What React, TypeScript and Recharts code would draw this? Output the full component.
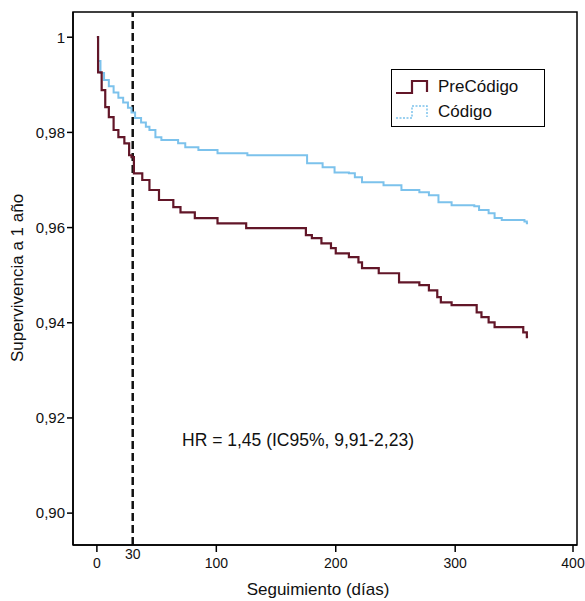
import React from "react";
import {
  LineChart,
  Line,
  XAxis,
  YAxis,
  ReferenceLine,
  ReferenceArea,
  Legend,
} from "recharts";

// PreCódigo Kaplan-Meier curve (días, supervivencia)
const preDays = [0, 1, 4, 7, 10, 14, 18, 23, 27, 29, 31, 38, 44, 52, 64, 70, 82, 101, 125, 175, 180, 188, 196, 200, 211, 219, 222, 236, 253, 270, 278, 285, 288, 297, 318, 322, 328, 333, 357, 360, 361];
const preSurv = [1, 0.9926, 0.9889, 0.9853, 0.9832, 0.9805, 0.979, 0.9777, 0.9752, 0.9748, 0.9714, 0.97, 0.9679, 0.9658, 0.9643, 0.9632, 0.962, 0.9609, 0.9599, 0.9584, 0.9578, 0.9567, 0.9557, 0.9546, 0.9538, 0.9527, 0.9515, 0.9504, 0.9485, 0.9479, 0.9468, 0.9454, 0.9443, 0.9437, 0.9422, 0.9412, 0.9401, 0.9391, 0.938, 0.937, 0.937];

// Código Kaplan-Meier curve
const codDays = [0, 1, 3, 6, 10, 14, 18, 22, 26, 29, 32, 37, 41, 44, 49, 54, 68, 74, 85, 101, 126, 176, 189, 199, 211, 216, 222, 240, 255, 270, 278, 286, 297, 316, 320, 328, 333, 339, 358, 360, 361];
const codSurv = [1, 0.995, 0.9925, 0.991, 0.9897, 0.9884, 0.9873, 0.9863, 0.9852, 0.9842, 0.983, 0.9821, 0.9812, 0.9805, 0.979, 0.9784, 0.9777, 0.9769, 0.9763, 0.9756, 0.9752, 0.9735, 0.9727, 0.9716, 0.9714, 0.9706, 0.9695, 0.9689, 0.9679, 0.9674, 0.9668, 0.9653, 0.9647, 0.9645, 0.9637, 0.963, 0.962, 0.9616, 0.9613, 0.9609, 0.9609];

const xTicks = [0, 30, 100, 200, 300, 400];
const yTicks = [0.9, 0.92, 0.94, 0.96, 0.98, 1];
const seriesNames = ["PreCódigo", "Código"];
const hrText = "HR = 1,45 (IC95%, 9,91-2,23)";
const xTitle = "Seguimiento (días)";
const yTitle = "Supervivencia a 1 año";
const cutoffDay = 30;

const preData = preDays.map((d, i) => ({ day: d, surv: preSurv[i] }));
const codData = codDays.map((d, i) => ({ day: d, surv: codSurv[i] }));

const RED = "#621628";
const BLUE = "#7cc2ec";
const FONT = "'Liberation Sans', Arial, sans-serif";

const X_DOMAIN: [number, number] = [-20, 402];
const Y_DOMAIN: [number, number] = [0.8933, 1.0053];
const PLOT_BOTTOM = 545;

const XTick = (props: any) => {
  const { x, payload } = props;
  const v = payload.value;
  const is30 = v === 30;
  return (
    <g>
      {!is30 && (
        <line x1={x} x2={x} y1={PLOT_BOTTOM} y2={PLOT_BOTTOM + 7} stroke="#000" strokeWidth={1.5} />
      )}
      <text
        x={x}
        y={is30 ? PLOT_BOTTOM + 14 : PLOT_BOTTOM + 23}
        textAnchor="middle"
        fontSize={14}
        fontFamily={FONT}
        fill="#111"
      >
        {v}
      </text>
    </g>
  );
};

const YTitle = () => (
  <text
    x={19}
    y={278}
    transform="rotate(-90 19 278)"
    textAnchor="middle"
    dominantBaseline="middle"
    fontSize={17}
    fontFamily={FONT}
    fill="#111"
  >
    {yTitle}
  </text>
);

const XTitle = () => (
  <text x={318} y={595} textAnchor="middle" fontSize={17} fontFamily={FONT} fill="#111">
    {xTitle}
  </text>
);

const LegendBox = () => (
  <div
    style={{
      border: "1.5px solid #000",
      width: 154,
      height: 58,
      boxSizing: "border-box",
      background: "#fff",
      fontFamily: FONT,
      fontSize: 17,
      color: "#111",
      paddingTop: 4,
    }}
  >
    {seriesNames.map((n, i) => (
      <div key={n} style={{ display: "flex", alignItems: "center", height: 25 }}>
        <svg width={44} height={22} style={{ display: "block" }}>
          <path
            d="M4 17 H20 V5 H35 V16"
            fill="none"
            stroke={i === 0 ? RED : BLUE}
            strokeWidth={i === 0 ? 2.2 : 1.5}
            strokeDasharray={i === 0 ? undefined : "2 1.5"}
          />
        </svg>
        <span style={{ marginLeft: 2 }}>{n}</span>
      </div>
    ))}
  </div>
);

export default function App() {
  return (
    <div style={{ position: "absolute", left: 0, top: 0, width: 585, height: 601, background: "#fff" }}>
      <LineChart width={585} height={601} margin={{ top: 12, right: 8, left: 0, bottom: 0 }}>
        <XAxis
          type="number"
          dataKey="day"
          domain={X_DOMAIN}
          ticks={xTicks}
          allowDataOverflow
          tickLine={false}
          tick={<XTick />}
          axisLine={{ stroke: "#000", strokeWidth: 1.5 }}
          height={56}
          label={<XTitle />}
        />
        <YAxis
          type="number"
          dataKey="surv"
          domain={Y_DOMAIN}
          ticks={yTicks}
          allowDataOverflow
          width={73}
          tickSize={6}
          tickLine={{ stroke: "#000", strokeWidth: 1.5 }}
          axisLine={{ stroke: "#000", strokeWidth: 1.5 }}
          tick={{ fontSize: 15, fontFamily: FONT, fill: "#111" }}
          tickFormatter={(v: number) => (v === 1 ? "1" : v.toFixed(2).replace(".", ","))}
          label={<YTitle />}
        />
        <ReferenceArea
          x1={X_DOMAIN[0]}
          x2={X_DOMAIN[1]}
          y1={Y_DOMAIN[0]}
          y2={Y_DOMAIN[1]}
          fill="none"
          stroke="#000"
          strokeWidth={1.5}
          ifOverflow="visible"
        />
        <ReferenceLine
          x={cutoffDay}
          stroke="#111"
          strokeWidth={2.5}
          strokeDasharray="8 4"
        />
        <Line
          data={codData}
          dataKey="surv"
          name={seriesNames[1]}
          type="stepAfter"
          stroke={BLUE}
          strokeWidth={2}
          dot={false}
          isAnimationActive={false}
        />
        <Line
          data={preData}
          dataKey="surv"
          name={seriesNames[0]}
          type="stepAfter"
          stroke={RED}
          strokeWidth={2.2}
          dot={false}
          isAnimationActive={false}
        />
        <Legend
          layout="vertical"
          align="center"
          verticalAlign="middle"
          content={<LegendBox />}
          wrapperStyle={{ position: "absolute", left: 391, top: 69, width: 154, height: 58 }}
        />
      </LineChart>
      <div
        style={{
          position: "absolute",
          left: 182,
          top: 429,
          height: 22,
          lineHeight: "22px",
          fontSize: 17.5,
          fontFamily: FONT,
          color: "#111",
          whiteSpace: "nowrap",
        }}
      >
        {hrText}
      </div>
    </div>
  );
}
